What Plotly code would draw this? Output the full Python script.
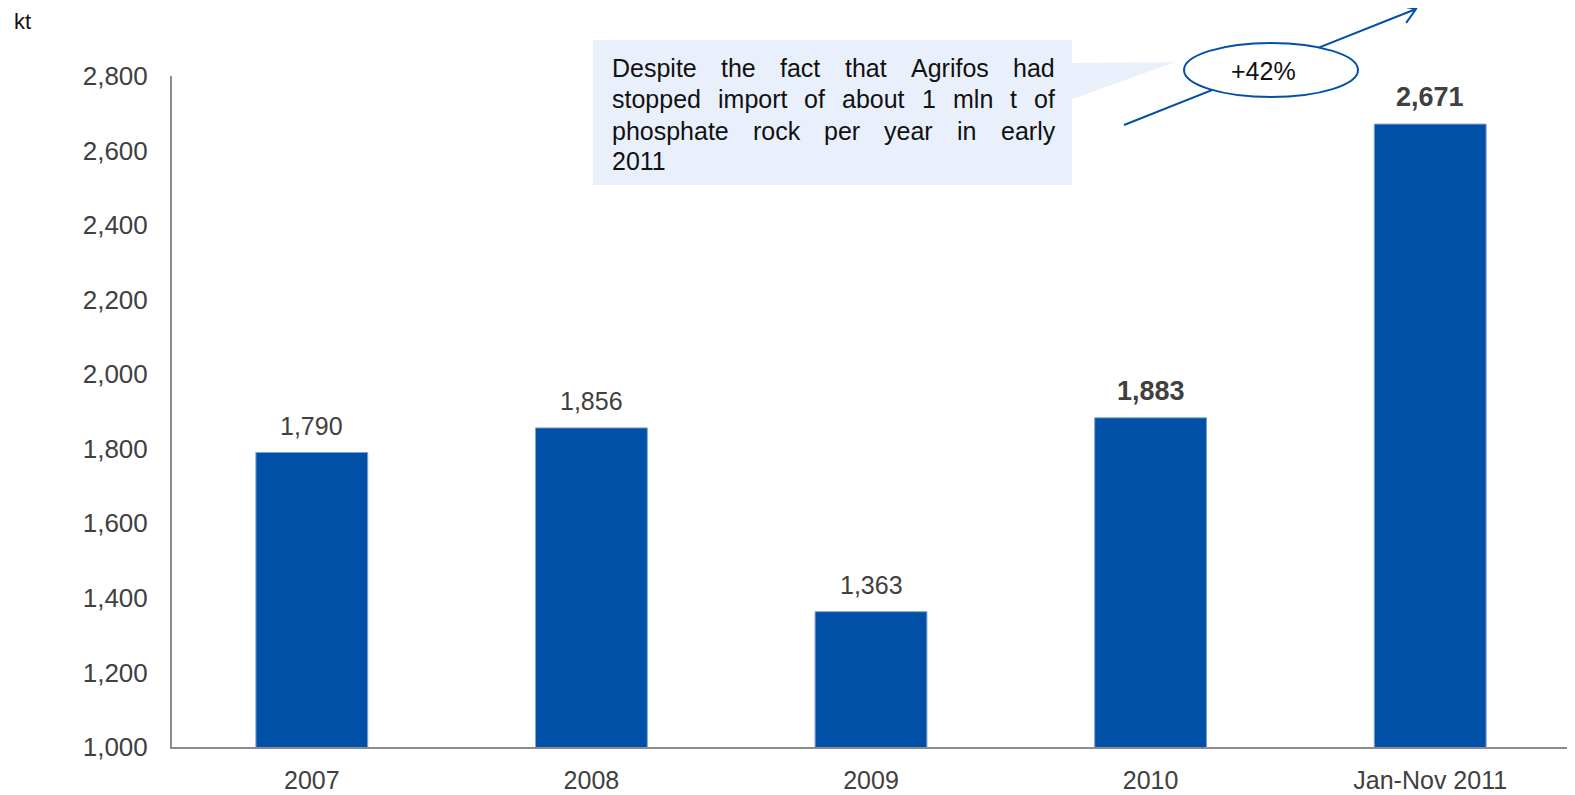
import math
import plotly.graph_objects as go

# ---------------- data ----------------
categories = ["2007", "2008", "2009", "2010", "Jan-Nov 2011"]
values = [1790, 1856, 1363, 1883, 2671]
label_bold = [False, False, False, True, True]
y_ticks = [1000, 1200, 1400, 1600, 1800, 2000, 2200, 2400, 2600, 2800]
y_tick_labels = ["1,000", "1,200", "1,400", "1,600", "1,800", "2,000", "2,200", "2,400", "2,600", "2,800"]
note_lines = [
    "Despite the fact that Agrifos had",
    "stopped import of about 1 mln t of",
    "phosphate rock per year in early",
    "2011",
]
growth_label = "+42%"
unit_label = "kt"

# ---------------- geometry helpers ----------------
# page body has an 8px default margin; figure is shrunk and shifted to compensate
OFF = 8
W, H = 1575 - OFF, 795 - OFF
PLOT_L, PLOT_R, PLOT_T, PLOT_B = 172, 1570, 76, 747   # in reference pixels
ML, MR, MT, MB = PLOT_L - OFF, 1575 - PLOT_R, PLOT_T - OFF, 795 - PLOT_B
PW, PH = PLOT_R - PLOT_L, PLOT_B - PLOT_T


def px(x):
    return (x - PLOT_L) / PW


def py(y):
    return (PLOT_B - y) / PH


FONT = "Liberation Sans, Arial, sans-serif"
BLUE = "#0050A8"
GREY_TXT = "#404040"
AXIS = "#8C8C8C"
BOX = "#EAF0FB"

fig = go.Figure()
fig.add_trace(go.Bar(
    x=categories, y=values,
    marker=dict(color=BLUE, line=dict(color="#7FA3D4", width=1)),
    hoverinfo="x+y",
))

# data labels
annotations = []
for i, (v, b) in enumerate(zip(values, label_bold)):
    txt = f"{v:,}"
    annotations.append(dict(
        x=i, y=v, xref="x", yref="y", text=f"<b>{txt}</b>" if b else txt,
        showarrow=False, yanchor="middle", xanchor="center", yshift=27,
        font=dict(family=FONT, size=27 if b else 25, color=GREY_TXT),
    ))

# unit label
annotations.append(dict(
    x=px(12), y=py(22), xref="paper", yref="paper", text=unit_label,
    showarrow=False, xanchor="left", yanchor="middle",
    font=dict(family=FONT, size=22, color="#111111"),
))

# justified note text (Arial advance widths per 1000 em)
WID = {'a': 556, 'b': 556, 'c': 500, 'd': 556, 'e': 556, 'f': 278, 'g': 556, 'h': 556,
       'i': 222, 'j': 222, 'k': 500, 'l': 222, 'm': 833, 'n': 556, 'o': 556, 'p': 556,
       'r': 333, 's': 500, 't': 278, 'u': 556, 'y': 500, 'A': 667, 'D': 722, ' ': 278}
for d in "0123456789":
    WID[d] = 556
NOTE_SIZE = 25


def wwidth(w):
    return sum(WID.get(ch, 556) for ch in w) / 1000 * NOTE_SIZE


left_x, right_x = 611, 1054
line_y = [67.5, 99, 130.5, 161]
for i, line in enumerate(note_lines):
    words = line.split(" ")
    widths = [wwidth(w) for w in words]
    if i < len(note_lines) - 1 and len(words) > 1:
        gap = (right_x - left_x - sum(widths)) / (len(words) - 1)
    else:
        gap = wwidth(" ")
    xcur = left_x
    for w, wd in zip(words, widths):
        annotations.append(dict(
            x=px(xcur - 1), y=py(line_y[i]), xref="paper", yref="paper", text=w,
            showarrow=False, xanchor="left", yanchor="middle",
            font=dict(family=FONT, size=NOTE_SIZE, color="#111111"),
        ))
        xcur += wd + gap

# growth label in ellipse
annotations.append(dict(
    x=px(1263), y=py(71), xref="paper", yref="paper", text=growth_label,
    showarrow=False, xanchor="center", yanchor="middle",
    font=dict(family=FONT, size=25, color="#111111"),
))

# ---------------- shapes ----------------
shapes = []
shapes.append(dict(type="rect", xref="paper", yref="paper",
                   x0=px(593), x1=px(1072), y0=py(185), y1=py(40),
                   fillcolor=BOX, line=dict(width=0), layer="above"))
shapes.append(dict(type="path", xref="paper", yref="paper",
                   path=f"M{px(1070)},{py(63)} L{px(1175)},{py(62)} L{px(1070)},{py(100)} Z",
                   fillcolor=BOX, line=dict(width=0), layer="above"))

tail = (1124, 125)
tip = (1416, 9)
dx, dy = tail[0] - tip[0], tail[1] - tip[1]
L = math.hypot(dx, dy)
ux, uy = dx / L, dy / L
arms = []
for ang in (math.radians(33), -math.radians(33)):
    ca, sa = math.cos(ang), math.sin(ang)
    ax_ = ux * ca - uy * sa
    ay_ = ux * sa + uy * ca
    arms.append((tip[0] + 17 * ax_, tip[1] + 17 * ay_))
arrow_path = (f"M{px(tail[0])},{py(tail[1])} L{px(tip[0])},{py(tip[1])} "
              f"M{px(arms[0][0])},{py(arms[0][1])} L{px(tip[0])},{py(tip[1])} "
              f"L{px(arms[1][0])},{py(arms[1][1])}")
shapes.append(dict(type="path", xref="paper", yref="paper", path=arrow_path,
                   line=dict(color=BLUE, width=2), layer="above"))
shapes.append(dict(type="circle", xref="paper", yref="paper",
                   x0=px(1184), x1=px(1358), y0=py(97), y1=py(43),
                   fillcolor="white", line=dict(color=BLUE, width=2), layer="above"))

fig.update_layout(
    width=W, height=H,
    margin=dict(l=ML, r=MR, t=MT, b=MB, pad=0),
    template="none",
    paper_bgcolor="white", plot_bgcolor="white",
    showlegend=False,
    bargap=0.6,
    font=dict(family=FONT, color=GREY_TXT),
    xaxis=dict(
        type="category", range=[-0.5, len(categories) - 0.5],
        showgrid=False, zeroline=False,
        showline=True, linecolor=AXIS, linewidth=2, ticks="",
        tickfont=dict(family=FONT, size=25, color=GREY_TXT),
        ticklabelstandoff=10, automargin=False,
    ),
    yaxis=dict(
        range=[1000, 2800], tickvals=y_ticks, ticktext=y_tick_labels,
        showgrid=False, zeroline=False, showline=True, linecolor=AXIS, linewidth=2,
        ticks="", tickfont=dict(family=FONT, size=26, color=GREY_TXT),
        ticklabelstandoff=17, automargin=False,
    ),
    annotations=annotations,
    shapes=shapes,
)

fig.write_html("out.html")
